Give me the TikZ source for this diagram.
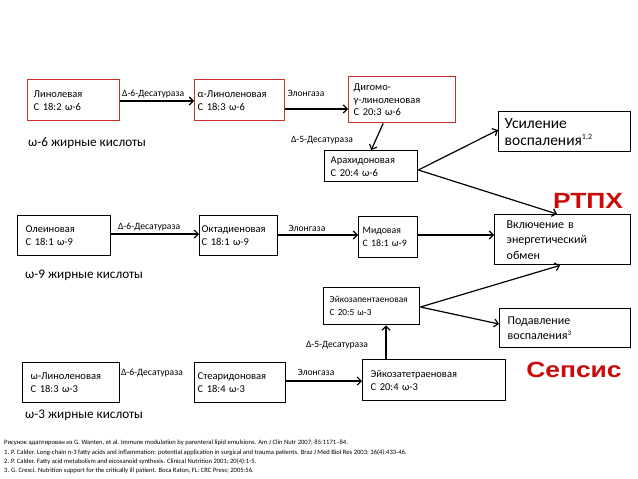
\documentclass[tikz,border=0pt]{standalone}
\usepackage{fontspec}
\setmainfont{Carlito}
\newfontfamily\alarmfont[FakeStretch=1.2]{Liberation Sans}
\usepackage{xcolor}
\usetikzlibrary{arrows.meta, positioning, calc}

\definecolor{boxred}{RGB}{205,45,45}
\definecolor{alarmred}{RGB}{205,10,10}

\tikzset{
    acid/.style={draw, line width=1.4pt, align=left, anchor=north west,
        font=\fontsize{10.5}{13}\selectfont},
    omegasix/.style={acid, draw=boxred},
    effect/.style={acid, font=\fontsize{12}{15.5}\selectfont},
    enzyme/.style={font=\fontsize{9.6}{11}\selectfont, inner sep=1pt},
    family/.style={font=\fontsize{13.2}{15}\selectfont, anchor=west, inner sep=0pt},
    alarm/.style={font=\alarmfont\bfseries\fontsize{22}{24}\selectfont, text=alarmred, inner sep=0pt},
    flow/.style={-{Straight Barb[length=4pt,width=8pt]}, line width=1.2pt},
    refline/.style={font=\fontsize{6.6}{7}\selectfont, anchor=west, inner sep=0pt}
}

\begin{document}
\hyphenpenalty=10000
\exhyphenpenalty=10000
\begin{tikzpicture}[x=1pt, y=-1pt]
    \useasboundingbox (0,0) rectangle (638,479);

    % omega-6 row
    \node[omegasix, minimum height=41pt, inner xsep=6pt, text width=80pt] (lin) at (27,79)
        {Линолевая\\С 18:2 ω-6};
    \node[omegasix, minimum height=41pt, inner xsep=3pt, text width=84pt] (alin) at (194,79)
        {α-Линоленовая\\С 18:3 ω-6};
    \node[omegasix, font=\fontsize{10.5}{12.5}\selectfont, minimum height=46pt, inner xsep=5pt, text width=97pt] (dgla) at (348,76)
        {Дигомо-\\γ-линоленовая\\С 20:3 ω-6};
    \node[acid, minimum height=31pt, inner xsep=6pt, text width=81pt] (ara) at (324,150)
        {Арахидоновая\\С 20:4 ω-6};
    \node[acid, font=\fontsize{15.5}{17}\selectfont, minimum height=40pt, inner xsep=6pt, text width=120pt] (usil) at (498,111)
        {Усиление\\воспаления\textsuperscript{\fontsize{8}{9}\selectfont 1,2}};
    \node[family] (fam6) at (28,143) {ω-6 жирные кислоты};

    % omega-9 row
    \node[acid, minimum height=40pt, inner xsep=8pt, text width=77pt] (olei) at (17,215)
        {Олеиновая\\С 18:1 ω-9};
    \node[acid, minimum height=40pt, inner xsep=2pt, text width=74pt] (okta) at (199,215)
        {Октадиеновая\\С 18:1 ω-9};
    \node[acid, font=\fontsize{9.8}{13}\selectfont, minimum height=41pt, inner xsep=4pt, text width=51pt] (mid) at (358,216)
        {Мидовая\\С 18:1 ω-9};
    \node[effect, minimum height=50pt, inner xsep=12pt, text width=112pt] (vkl) at (494,214)
        {Включение в\\энергетический\\обмен};
    \node[family] (fam9) at (25,275) {ω-9 жирные кислоты};

    % omega-3 row
    \node[acid, font=\fontsize{9.3}{13}\selectfont, minimum height=37pt, inner xsep=6pt, text width=84pt] (epa) at (323,287)
        {Эйкозапентаеновая\\С 20:5 ω-3};
    \node[effect, minimum height=39pt, inner xsep=8pt, text width=115pt] (podav) at (499,308)
        {Подавление\\воспаления\textsuperscript{\fontsize{7}{8}\selectfont 3}};
    \node[acid, minimum height=40pt, inner xsep=8pt, text width=81pt] (aln) at (22,362)
        {ω-Линоленовая\\С 18:3 ω-3};
    \node[acid, minimum height=40pt, inner xsep=3pt, text width=85pt] (sda) at (194,362)
        {Стеаридоновая\\С 18:4 ω-3};
    \node[acid, minimum height=41pt, inner xsep=8pt, text width=127pt] (eta) at (362,359)
        {Эйкозатетраеновая\\С 20:4 ω-3};
    \node[family] (fam3) at (25,415) {ω-3 жирные кислоты};

    % red labels
    \node[alarm] (gvhd) at (588,201) {РТПХ};
    \node[alarm] (sepsis) at (574,370) {Сепсис};

    % conversions
    \draw[flow] (lin.east |- 0,101) -- (alin.west |- 0,101)
        node[enzyme, midway, above=1pt, xshift=-4pt] (desatA) {Δ-6-Десатураза};
    \draw[flow] (alin.east |- 0,109) -- (dgla.west |- 0,109);
    \node[enzyme] (elongA) at (306,93) {Элонгаза};
    \draw[flow] ([xshift=-19pt]dgla.south) -- (ara.north);
    \node[enzyme] (desatB) at (322,140) {Δ-5-Десатураза};

    \draw[flow] (olei.east |- 0,234) -- (okta.west |- 0,234)
        node[enzyme, midway, above=1pt, xshift=-6pt] (desatC) {Δ-6-Десатураза};
    \draw[flow] (okta.east |- 0,235) -- (mid.west |- 0,235);
    \node[enzyme] (elongB) at (307,228) {Элонгаза};
    \draw[flow] (mid.east |- 0,235) -- (vkl.west |- 0,235);

    \node[enzyme] (desatD) at (152,373) {Δ-6-Десатураза};
    \draw[flow] (sda.east |- 0,381) -- (eta.west |- 0,381);
    \node[enzyme] (elongC) at (316,372) {Элонгаза};
    \draw[flow] (eta.north -| 386,0) -- (epa.south -| 386,0);
    \node[enzyme] (desatE) at (337,345) {Δ-5-Десатураза};

    % effects
    \draw[flow] (ara.east |- 0,170) -- (usil.west |- 0,130);
    \draw[flow] (ara.east |- 0,170) -- (vkl.north -| 557,0);
    \draw[flow] (epa.east |- 0,307) -- (vkl.south -| 560,0);
    \draw[flow] (epa.east |- 0,307) -- (podav.west |- 0,324);

    % references
    \node[refline] (refA) at (4,443) {Рисунок адаптирован из G. Wanten, et al. Immune modulation by parenteral lipid emulsions. Am J Clin Nutr 2007; 85:1171–84.};
    \node[refline] (refB) at (4,452.5) {1. P. Calder. Long-chain n-3 fatty acids and inflammation: potential application in surgical and trauma patients. Braz J Med Biol Res 2003; 36(4):433-46.};
    \node[refline] (refC) at (4,462) {2. P. Calder. Fatty acid metabolism and eicosanoid synthesis. Clinical Nutrition 2001; 20(4):1-5.};
    \node[refline] (refD) at (4,471) {3. G. Cresci. Nutrition support for the critically ill patient. Boca Raton, FL: CRC Press; 2005:56.};

\end{tikzpicture}
\end{document}
